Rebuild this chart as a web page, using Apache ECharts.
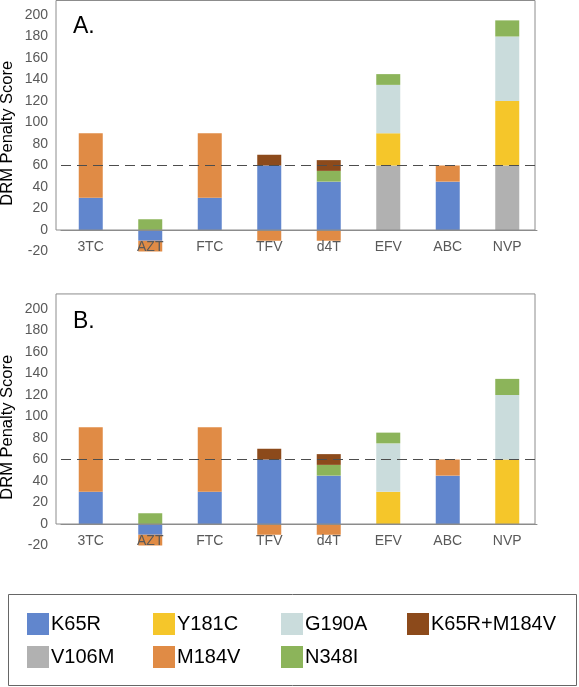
<!DOCTYPE html>
<html><head><meta charset="utf-8">
<script src="https://cdn.jsdelivr.net/npm/echarts@6/dist/echarts.min.js"></script>
<style>html,body{margin:0;padding:0;background:#fff}#c{width:579px;height:687px}</style>
</head><body><div id="c"></div>
<script>
const categories = ['3TC','AZT','FTC','TFV','d4T','EFV','ABC','NVP'];
const seriesNames = ['K65R','V106M','Y181C','G190A','M184V','N348I','K65R+M184V'];
const colors = {
  'K65R':'#6186CD','V106M':'#B1B1B1','Y181C':'#F5C62A','G190A':'#CADCDC',
  'M184V':'#E08B45','N348I':'#8CB45A','K65R+M184V':'#8C4A1B'
};
// Panel A values
const A_K65R      = [30,-10,30,60,45,null,45,null];
const A_V106M     = [null,null,null,null,null,60,null,60];
const A_Y181C     = [null,null,null,null,null,30,null,60];
const A_G190A     = [null,null,null,null,null,45,null,60];
const A_M184V     = [60,-10,60,-10,-10,null,15,null];
const A_N348I     = [null,10,null,null,10,10,null,15];
const A_K65R_M184V= [null,null,null,10,10,null,null,null];
// Panel B values
const B_K65R      = [30,-10,30,60,45,null,45,null];
const B_V106M     = [null,null,null,null,null,null,null,null];
const B_Y181C     = [null,null,null,null,null,30,null,60];
const B_G190A     = [null,null,null,null,null,45,null,60];
const B_M184V     = [60,-10,60,-10,-10,null,15,null];
const B_N348I     = [null,10,null,null,10,10,null,15];
const B_K65R_M184V= [null,null,null,10,10,null,null,null];
const threshold = 60;

const panelA = [A_K65R,A_V106M,A_Y181C,A_G190A,A_M184V,A_N348I,A_K65R_M184V];
const panelB = [B_K65R,B_V106M,B_Y181C,B_G190A,B_M184V,B_N348I,B_K65R_M184V];

const FONT = 'Liberation Sans, Arial, sans-serif';
const chart = echarts.init(document.getElementById('c'), null, {renderer:'canvas'});

function mkX(i){
  return {type:'category', gridIndex:i, data:categories, z:5,
    axisLine:{onZero:true, lineStyle:{color:'#8c8c8c', width:1}},
    axisTick:{show:false},
    axisLabel:{color:'#595959', fontSize:14, fontFamily:FONT, margin:-11}};
}
function mkY(i){
  return {type:'value', gridIndex:i, min:-20, max:200, interval:20,
    name:'DRM Penalty Score', nameLocation:'middle', nameRotate:90, nameGap:45,
    nameMoveOverlap:false,
    nameTextStyle:{color:'#000', fontSize:16.5, fontFamily:FONT},
    axisLine:{show:false}, axisTick:{show:false}, splitLine:{show:false},
    axisLabel:{color:'#595959', fontSize:14, fontFamily:FONT, margin:13}};
}
const series = [];
[panelA, panelB].forEach((panel, gi) => {
  panel.forEach((vals, si) => {
    const s = {name:seriesNames[si], type:'bar', xAxisIndex:gi, yAxisIndex:gi,
      stack:'p'+gi, barWidth:24, data:vals,
      itemStyle:{color:colors[seriesNames[si]]}};
    if (si === 0) {
      s.markLine = {silent:true, symbol:'none', z:4,
        lineStyle:{type:[10,6], color:'#4d4d4d', width:1},
        label:{show:false}, data:[{yAxis:threshold}]};
    }
    series.push(s);
  });
});
function mkLegend(names, left){
  return {data:names, orient:'vertical', left:left, top:613, padding:0,
    itemWidth:22, itemHeight:22, itemGap:11, icon:'rect',
    selectedMode:false,
    textStyle:{color:'#000', fontSize:20, fontFamily:FONT, padding:[0,0,0,-3]}};
}
chart.setOption({
  animation:false,
  title:[
    {text:'A.', left:68, top:10, textStyle:{fontSize:23, fontWeight:'normal', color:'#000', fontFamily:FONT}},
    {text:'B.', left:68, top:305, textStyle:{fontSize:23, fontWeight:'normal', color:'#000', fontFamily:FONT}}
  ],
  grid:[
    {left:61, width:476, top:15, height:236.5, outerBoundsMode:'none', containLabel:false},
    {left:61, width:476, top:309, height:236.5, outerBoundsMode:'none', containLabel:false}
  ],
  xAxis:[mkX(0), mkX(1)],
  yAxis:[mkY(0), mkY(1)],
  legend:[
    mkLegend(['K65R','V106M'], 27),
    mkLegend(['Y181C','M184V'], 153),
    mkLegend(['G190A','N348I'], 281),
    mkLegend(['K65R+M184V'], 407)
  ],
  series:series
});
// decorative frames
const frames = [];
[0,1].forEach(gi => {
  const yTop = chart.convertToPixel({yAxisIndex:gi}, 214);
  const yZero = chart.convertToPixel({yAxisIndex:gi}, 0);
  frames.push({type:'rect', shape:{x:56, y:Math.max(yTop,0.5), width:479, height:yZero-Math.max(yTop,0.5)},
    style:{fill:'none', stroke:'#8c8c8c', lineWidth:1}, z:3, silent:true});
});
frames.push({type:'rect', shape:{x:8.5, y:594.5, width:568, height:91},
  style:{fill:'none', stroke:'#666', lineWidth:1}, silent:true});
chart.setOption({graphic:frames});
</script>
</body></html>
